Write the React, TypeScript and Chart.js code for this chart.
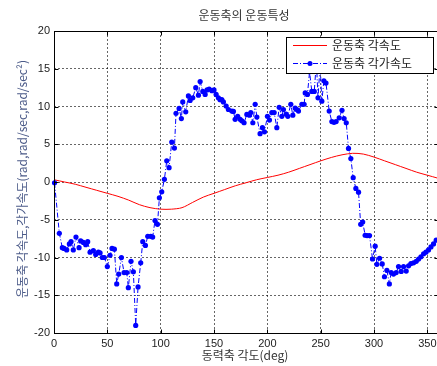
import { useEffect, useRef } from "react";
import { Chart, registerables } from "chart.js";

Chart.register(...registerables);

// ---- text ----
const chartTitle = "운동축의 운동특성";
const xAxisLabel = "동력축 각도(deg)";
const yAxisLabel = "운동축 각속도,각가속도(rad,rad/sec,rad/sec²)";
const seriesNames = ["운동축 각속도", "운동축 각가속도"];

// ---- ticks ----
const xTicks = [0, 50, 100, 150, 200, 250, 300, 350];
const yTicks = [-20, -15, -10, -5, 0, 5, 10, 15, 20];
const xRange = [0, 360];
const yRange = [-20, 20];

// ---- angular velocity (rad/sec) ----
const velocityAngle = [
  0, 10, 20, 30, 40, 50, 60, 70, 80, 90, 100, 110, 120, 130, 140, 150, 160, 170,
  180, 190, 200, 210, 220, 230, 240, 250, 260, 270, 280, 290, 300, 310, 320, 330,
  340, 350, 360,
];
const velocity = [
  0.3, 0.0, -0.3, -0.7, -1.1, -1.5, -1.9, -2.4, -3.0, -3.4, -3.6, -3.6, -3.4, -2.7,
  -2.0, -1.5, -1.0, -0.5, -0.1, 0.3, 0.6, 0.9, 1.3, 1.8, 2.3, 2.8, 3.25, 3.6, 3.8,
  3.7, 3.3, 2.8, 2.3, 1.8, 1.3, 0.9, 0.5,
];

// ---- angular acceleration (rad/sec^2) ----
const accelAngle = [
  0.5, 5, 7.8, 9.4, 11.9, 14.4, 16, 18.1, 20.6, 23.5, 25, 27.5, 29.7, 31.6, 33.8,
  36.9, 39.1, 41.6, 43.2, 45.3, 47.2, 50, 52.5, 54.4, 56.6, 58.8, 60.7, 63.2, 65.7,
  68.2, 69.7, 72.2, 74.4, 76.6, 78.8, 81.3, 83.2, 85.7, 87.9, 90.7, 92.5, 94.7, 97,
  98.8, 101, 103.5, 105.7, 107.9, 110.4, 112.9, 114.4, 117.3, 119.4, 120.7, 123.5,
  126, 127.6, 130.1, 132.9, 135.4, 137, 139.5, 141.7, 143.5, 145.5, 148, 150, 152,
  154.1, 155.7, 157.3, 158.8, 161.4, 163.5, 166.7, 168.2, 169.8, 172.2, 174.5,
  176.1, 178.2, 180.8, 183.2, 184.5, 186.4, 188.6, 190.2, 193.2, 195.4, 197.3,
  200.1, 202, 204.2, 206.4, 208.9, 211.1, 213.6, 215.1, 217.6, 219.2, 222, 223.9,
  226.1, 227.7, 229.2, 232.4, 234.5, 235.5, 237.6, 239.6, 241.7, 244, 246, 247.5,
  249.5, 251.1, 253, 255, 258, 260.5, 262.5, 264.5, 267.4, 270, 272, 274, 276.1,
  278.3, 280.5, 283, 285.5, 287.5, 289.4, 291.7, 293.5, 295.8, 298.6, 301.1, 302.7,
  305.2, 307.7, 309.8, 312.1, 314.4, 316.1, 318.3, 320.8, 323, 325.5, 327.7, 330.2,
  332.4, 334.6, 337.1, 339.6, 341.8, 344, 346.5, 348.7, 351.1, 353.4, 355.8, 358.3,
];
const accel = [
  -0.1, -6.8, -8.7, -8.8, -9.0, -8.2, -7.9, -9.0, -7.3, -8.7, -7.8, -8.0, -8.3, -7.9,
  -9.3, -9.1, -9.6, -9.3, -9.4, -10.0, -10.0, -11.2, -9.7, -8.8, -8.9, -13.5, -12.2,
  -10.0, -12.0, -12.0, -14.0, -10.5, -11.9, -19.0, -13.9, -10.7, -7.9, -8.4, -7.2,
  -7.2, -7.3, -5.1, -5.6, -2.1, -1.3, 0.35, 2.8, 1.9, 5.3, 4.5, 9.1, 9.75, 8.4, 10.6,
  9.3, 11.4, 10.8, 11.15, 12.5, 11.5, 13.3, 12.0, 11.6, 12.2, 12.3, 12.1, 12.2, 11.6,
  11.15, 10.9, 10.9, 10.6, 10.05, 9.6, 9.4, 9.35, 8.3, 8.7, 8.3, 8.1, 7.85, 8.95,
  8.85, 9.2, 7.85, 10.3, 8.6, 6.4, 7.2, 6.65, 8.7, 8.2, 9.2, 9.2, 7.2, 9.9, 8.7, 9.6,
  9.0, 8.7, 10.3, 8.85, 9.8, 9.6, 9.4, 10.3, 10.3, 11.8, 11.6, 14.6, 12.0, 12.0, 16.0,
  11.15, 15.5, 10.7, 13.4, 13.1, 9.4, 8.0, 7.9, 8.0, 8.5, 9.5, 8.4, 7.85, 4.45, 3.1,
  0.57, -0.85, -1.35, -5.6, -5.3, -7.05, -7.1, -7.1, -10.2, -8.5, -10.9, -10.1,
  -10.85, -12.55, -11.7, -13.5, -12.0, -12.2, -12.0, -11.2, -11.85, -11.2, -11.8,
  -11.1, -10.8, -10.7, -10.5, -10.2, -9.9, -9.5, -9.3, -9.0, -8.6, -8.2, -7.7,
];

const LATIN = "'Liberation Sans', Arial, 'Noto Sans CJK KR', sans-serif";
const HANGUL = "'Noto Sans CJK KR', 'Liberation Sans', sans-serif";
const RED = "#ff0000";
const BLUE = "#0000ff";

const px = (v: number) => Math.round(v) + 0.5;

// Box frame, inward ticks, legend and text labels in MATLAB figure style
const figureDecor = {
  id: "figureDecor",
  afterDatasetsDraw(chart: any) {
    const { ctx, chartArea: a, scales } = chart;
    const L = px(a.left), R = px(a.right), T = px(a.top), B = px(a.bottom);
    ctx.save();
    ctx.strokeStyle = "#000";
    ctx.lineWidth = 1;
    ctx.setLineDash([]);
    ctx.strokeRect(L, T, R - L, B - T);

    // inward tick marks on all four sides
    const tl = 4;
    ctx.beginPath();
    for (const t of xTicks) {
      const x = px(scales.x.getPixelForValue(t));
      ctx.moveTo(x, B); ctx.lineTo(x, B - tl);
      ctx.moveTo(x, T); ctx.lineTo(x, T + tl);
    }
    for (const t of yTicks) {
      const y = px(scales.y.getPixelForValue(t));
      ctx.moveTo(L, y); ctx.lineTo(L + tl, y);
      ctx.moveTo(R, y); ctx.lineTo(R - tl, y);
    }
    ctx.stroke();

    // legend box
    const lx = 286.5, ly = 37.5, lw = 147, lh = 36;
    ctx.fillStyle = "#fff";
    ctx.fillRect(lx, ly, lw, lh);
    ctx.strokeRect(lx, ly, lw, lh);

    const row1 = 45.5, row2 = 63.5;
    ctx.strokeStyle = RED;
    ctx.beginPath();
    ctx.moveTo(293, row1); ctx.lineTo(327, row1);
    ctx.stroke();

    ctx.strokeStyle = BLUE;
    ctx.setLineDash([5, 2, 1, 2]);
    ctx.beginPath();
    ctx.moveTo(293, row2); ctx.lineTo(327, row2);
    ctx.stroke();
    ctx.setLineDash([]);
    ctx.fillStyle = BLUE;
    ctx.beginPath();
    ctx.arc(310, row2, 2.5, 0, Math.PI * 2);
    ctx.fill();

    ctx.fillStyle = "#222";
    ctx.font = `12px ${HANGUL}`;
    ctx.textAlign = "left";
    ctx.textBaseline = "middle";
    ctx.fillText(seriesNames[0], 332, row1);
    ctx.fillText(seriesNames[1], 332, row2);
    ctx.restore();
  },
  afterDraw(chart: any) {
    const { ctx, chartArea: a } = chart;
    const cx = (a.left + a.right) / 2;
    ctx.save();
    ctx.textAlign = "center";
    ctx.textBaseline = "middle";
    ctx.fillStyle = "#333";
    ctx.font = `12px ${HANGUL}`;
    ctx.fillText(chartTitle, cx - 2, 15);
    ctx.fillText(xAxisLabel, cx - 1, 355);

    ctx.translate(22, (a.top + a.bottom) / 2 - 3);
    ctx.rotate(-Math.PI / 2);
    ctx.fillStyle = "#4b5a88";
    ctx.fillText(yAxisLabel, 0, 0);
    ctx.restore();
  },
};

export default function App() {
  const canvasRef = useRef<HTMLCanvasElement | null>(null);

  useEffect(() => {
    document.documentElement.style.overflow = "hidden";
    document.body.style.overflow = "hidden";
    document.body.style.margin = "0";
    const canvas = canvasRef.current;
    if (!canvas) return;

    const velocityPoints = velocityAngle.map((x, i) => ({ x, y: velocity[i] }));
    const accelPoints = accelAngle.map((x, i) => ({ x, y: accel[i] }));

    const gridStyle = { color: "rgba(0,0,0,0.6)", lineWidth: 1, drawTicks: false };
    const tickFont = { family: LATIN, size: 11 };

    const chart = new Chart(canvas, {
      type: "line",
      data: {
        datasets: [
          {
            label: seriesNames[0],
            data: velocityPoints,
            borderColor: RED,
            borderWidth: 1,
            pointRadius: 0,
            tension: 0.3,
            order: 1,
          },
          {
            label: seriesNames[1],
            data: accelPoints,
            borderColor: BLUE,
            backgroundColor: BLUE,
            borderWidth: 1,
            borderDash: [5, 2, 1, 2],
            pointRadius: 2.6,
            pointBorderWidth: 0,
            pointBackgroundColor: BLUE,
            tension: 0,
            clip: 4,
            order: 0,
          },
        ],
      },
      options: {
        responsive: false,
        animation: false,
        devicePixelRatio: 1,
        layout: { padding: { left: 0, top: 31, right: 7, bottom: 0 } },
        plugins: {
          legend: { display: false },
          tooltip: { enabled: false },
          title: { display: false },
        },
        scales: {
          x: {
            type: "linear",
            min: xRange[0],
            max: xRange[1],
            grid: gridStyle,
            border: { display: false, dash: [2, 2] },
            ticks: { font: tickFont, color: "#222", padding: 4, maxRotation: 0 },
            afterBuildTicks: (s: any) => {
              s.ticks = xTicks.map((value) => ({ value }));
            },
            afterFit: (s: any) => {
              s.height = 33;
            },
          },
          y: {
            type: "linear",
            min: yRange[0],
            max: yRange[1],
            grid: gridStyle,
            border: { display: false, dash: [2, 2] },
            ticks: { font: tickFont, color: "#222", padding: 4 },
            afterBuildTicks: (s: any) => {
              s.ticks = yTicks.map((value) => ({ value }));
            },
            afterFit: (s: any) => {
              s.width = 54;
            },
          },
        },
      },
      plugins: [figureDecor],
    });

    return () => chart.destroy();
  }, []);

  return (
    <div style={{ position: "fixed", left: 0, top: 0, width: 437, height: 366, overflow: "hidden", background: "#fff" }}>
      <canvas ref={canvasRef} width={445} height={366} style={{ display: "block" }} />
    </div>
  );
}
